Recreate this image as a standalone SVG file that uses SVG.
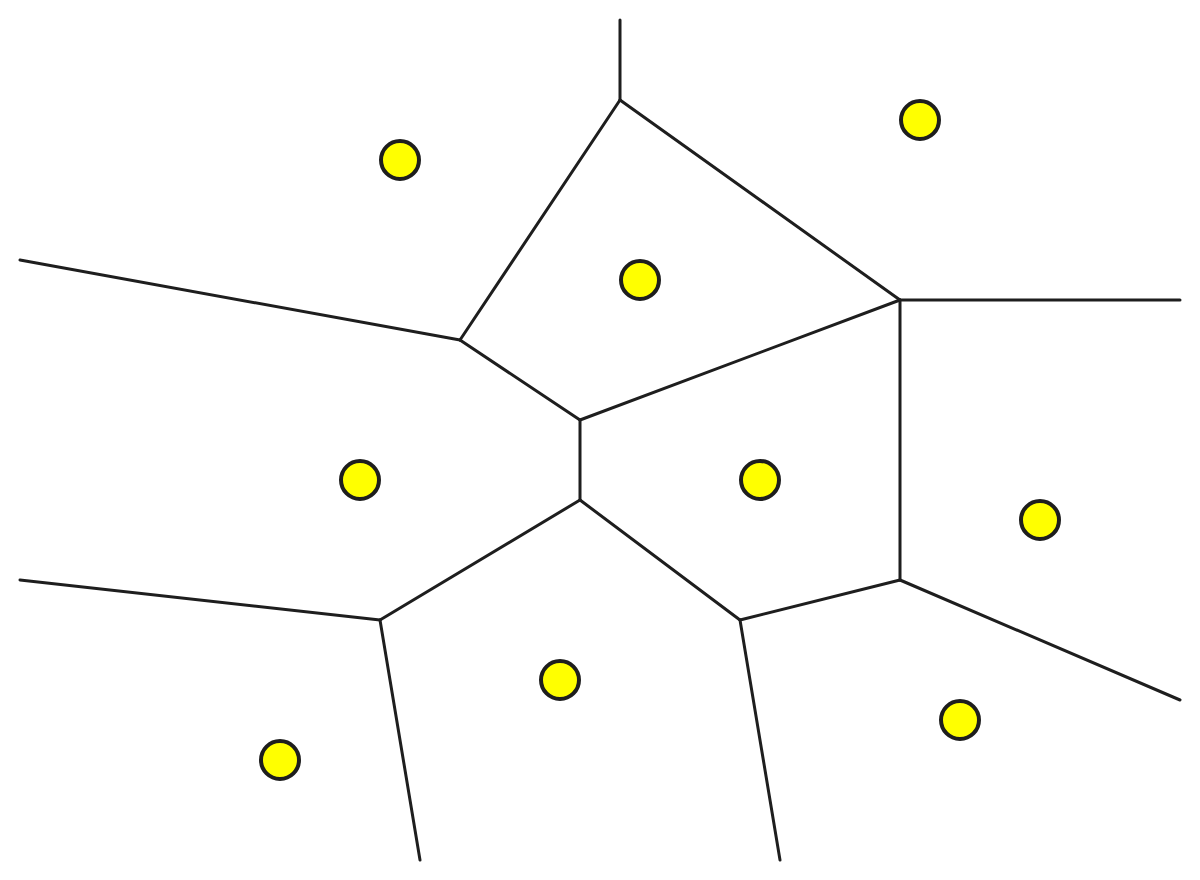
<svg xmlns="http://www.w3.org/2000/svg" width="1200" height="880" viewBox="0 0 1200 880">
<style>
.e{stroke:#1e1e1e;stroke-width:3;stroke-linecap:round;fill:none}
.s{fill:#ffff00;stroke:#1e1e1e;stroke-width:4}
</style>
<rect width="1200" height="880" fill="#ffffff"/>
<g id="edges">
<line class="e" x1="620" y1="20" x2="620" y2="100"/>
<line class="e" x1="620" y1="100" x2="900" y2="300"/>
<line class="e" x1="620" y1="100" x2="460" y2="340"/>
<line class="e" x1="20" y1="260" x2="460" y2="340"/>
<line class="e" x1="460" y1="340" x2="580" y2="420"/>
<line class="e" x1="580" y1="420" x2="900" y2="300"/>
<line class="e" x1="900" y1="300" x2="1180" y2="300"/>
<line class="e" x1="900" y1="300" x2="900" y2="580"/>
<line class="e" x1="580" y1="420" x2="580" y2="500"/>
<line class="e" x1="580" y1="500" x2="380" y2="620"/>
<line class="e" x1="20" y1="580" x2="380" y2="620"/>
<line class="e" x1="380" y1="620" x2="420" y2="860"/>
<line class="e" x1="580" y1="500" x2="740" y2="620"/>
<line class="e" x1="740" y1="620" x2="900" y2="580"/>
<line class="e" x1="740" y1="620" x2="780" y2="860"/>
<line class="e" x1="900" y1="580" x2="1180" y2="700"/>
</g>
<g id="site1"><circle class="s" cx="400" cy="160" r="19"/></g>
<g id="site2"><circle class="s" cx="920" cy="120" r="19"/></g>
<g id="site3"><circle class="s" cx="640" cy="280" r="19"/></g>
<g id="site4"><circle class="s" cx="360" cy="480" r="19"/></g>
<g id="site5"><circle class="s" cx="760" cy="480" r="19"/></g>
<g id="site6"><circle class="s" cx="1040" cy="520" r="19"/></g>
<g id="site7"><circle class="s" cx="560" cy="680" r="19"/></g>
<g id="site8"><circle class="s" cx="280" cy="760" r="19"/></g>
<g id="site9"><circle class="s" cx="960" cy="720" r="19"/></g>
</svg>
